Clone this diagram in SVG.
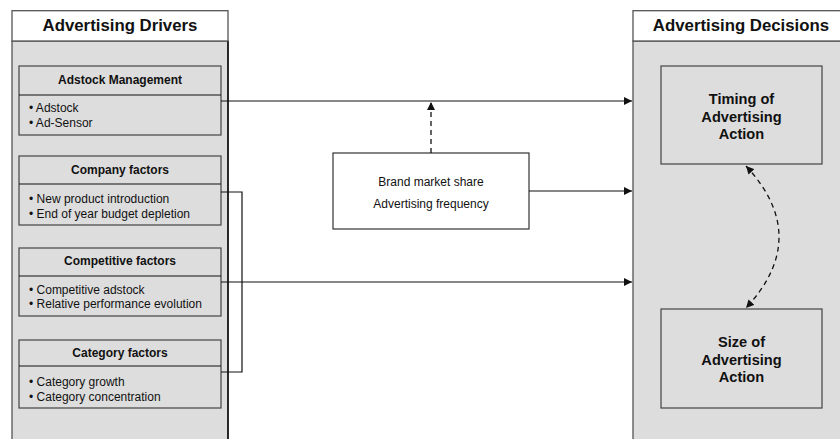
<svg xmlns="http://www.w3.org/2000/svg" width="840" height="439" viewBox="0 0 840 439">
<defs>
<style>
.panel{fill:#dddddd;stroke:#555;stroke-width:1.3}
.title{fill:#ffffff;stroke:#555;stroke-width:1.3}
.box{fill:#dddddd;stroke:#444;stroke-width:1.2}
.wbox{fill:#ffffff;stroke:#333;stroke-width:1.2}
.t{font-family:"Liberation Sans",Arial,sans-serif;fill:#111}
.h1{font-size:16.8px;font-weight:bold;text-anchor:middle}
.h2{font-size:12px;font-weight:bold;text-anchor:middle}
.it{font-size:12px}
.c{font-size:12px;text-anchor:middle}
.big{font-size:14.6px;font-weight:bold;text-anchor:middle}
.ln{fill:none;stroke:#111;stroke-width:1.2}
.dash{fill:none;stroke:#111;stroke-width:1.3;stroke-dasharray:5,4}
</style>
<marker id="ah" viewBox="0 0 10 10" refX="10" refY="5" markerWidth="8" markerHeight="8" markerUnits="userSpaceOnUse" orient="auto-start-reverse">
<path d="M0,0 L10,5 L0,10 z" fill="#111"/>
</marker>
</defs>

<g id="drivers-panel">
<rect class="panel" x="12" y="41" width="216" height="410"/>
<line x1="228" y1="41" x2="228" y2="439" stroke="#000" stroke-width="1.4"/>
<rect class="title" x="12" y="10.7" width="216" height="30.3"/>
<text class="t h1" x="120" y="31">Advertising Drivers</text>
</g>

<g id="adstock">
<rect class="box" x="19" y="66" width="202" height="69"/>
<line class="ln" x1="19" y1="95" x2="221" y2="95" stroke="#444"/>
<text class="t h2" x="120" y="83.5">Adstock Management</text>
<text class="t it" x="29" y="112">• Adstock</text>
<text class="t it" x="29" y="127">• Ad-Sensor</text>
</g>

<g id="company">
<rect class="box" x="19" y="156" width="202" height="69"/>
<line class="ln" x1="19" y1="184" x2="221" y2="184"/>
<text class="t h2" x="120" y="174">Company factors</text>
<text class="t it" x="29" y="203">• New product introduction</text>
<text class="t it" x="29" y="217.5">• End of year budget depletion</text>
</g>

<g id="competitive">
<rect class="box" x="19" y="248" width="202" height="68"/>
<line class="ln" x1="19" y1="276" x2="221" y2="276"/>
<text class="t h2" x="120" y="265">Competitive factors</text>
<text class="t it" x="29" y="293.5">• Competitive adstock</text>
<text class="t it" x="29" y="308">• Relative performance evolution</text>
</g>

<g id="category">
<rect class="box" x="19" y="340" width="202" height="68"/>
<line class="ln" x1="19" y1="366" x2="221" y2="366"/>
<text class="t h2" x="120" y="357">Category factors</text>
<text class="t it" x="29" y="386">• Category growth</text>
<text class="t it" x="29" y="401">• Category concentration</text>
</g>

<g id="decisions-panel">
<rect class="panel" x="633" y="41" width="220" height="410"/>
<rect class="title" x="633" y="10.7" width="220" height="30.3"/>
<text class="t h1" x="741" y="31">Advertising Decisions</text>
</g>

<g id="timing">
<rect class="box" x="661" y="66" width="161" height="98"/>
<text class="t big" x="741.5" y="104">Timing of</text>
<text class="t big" x="741.5" y="122">Advertising</text>
<text class="t big" x="741.5" y="139">Action</text>
</g>

<g id="size">
<rect class="box" x="661" y="309" width="161" height="99"/>
<text class="t big" x="741.5" y="347">Size of</text>
<text class="t big" x="741.5" y="365">Advertising</text>
<text class="t big" x="741.5" y="382">Action</text>
</g>

<g id="brand">
<rect class="wbox" x="333" y="153" width="196" height="76"/>
<text class="t c" x="431" y="185.5">Brand market share</text>
<text class="t c" x="431" y="207.5">Advertising frequency</text>
</g>

<g id="connectors">
<line class="ln" x1="221" y1="101" x2="632" y2="101" marker-end="url(#ah)"/>
<line class="ln" x1="529" y1="191" x2="632" y2="191" marker-end="url(#ah)"/>
<line class="ln" x1="221" y1="282" x2="632" y2="282" marker-end="url(#ah)"/>
<polyline class="ln" points="221,192 242,192 242,372 221,372"/>
<line class="dash" x1="431" y1="153" x2="431" y2="102" marker-end="url(#ah)"/>
<path class="dash" d="M746,166 Q812,237 746,308" marker-start="url(#ah)" marker-end="url(#ah)"/>
</g>
</svg>
